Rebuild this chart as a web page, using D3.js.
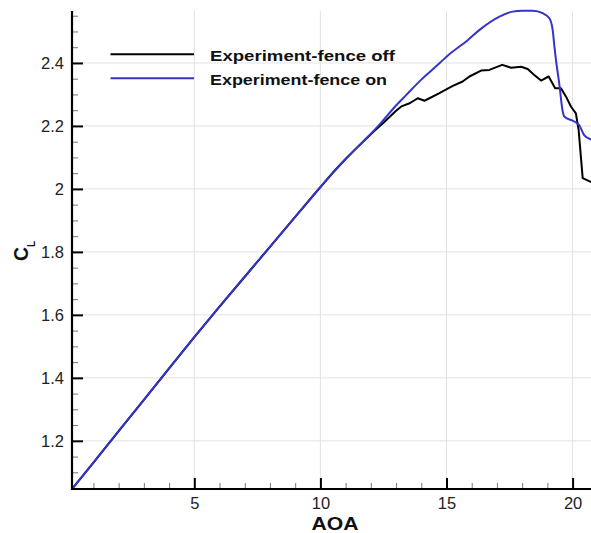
<!DOCTYPE html>
<html>
<head>
<meta charset="utf-8">
<script src="https://cdn.jsdelivr.net/npm/d3@7"></script>
<style>
  html, body { margin: 0; padding: 0; background: #fff; }
  svg { display: block; font-family: "Liberation Sans", Arial, Helvetica, sans-serif; }
</style>
</head>
<body>
<svg id="chart" width="591" height="533"></svg>
<script>
// ---- data ----
const seriesNames = ["Experiment-fence off", "Experiment-fence on"];
const seriesColors = ["#000000", "#3434c8"];

const aoaOff = [0.15, 1, 2, 3, 4, 5, 6, 7, 8, 9, 10, 10.5, 11, 11.36, 12.08, 12.5, 13.0, 13.21, 13.54, 13.86, 14.13, 14.72, 15.25, 15.64, 15.91, 16.37, 16.7, 17.21, 17.56, 17.96, 18.22, 18.48, 18.75, 19.05, 19.31, 19.54, 19.74, 19.94, 20.13, 20.24, 20.40, 20.70, 20.95];
const clOff  = [1.047, 1.131, 1.231, 1.330, 1.430, 1.529, 1.626, 1.721, 1.816, 1.911, 2.006, 2.052, 2.095, 2.124, 2.180, 2.210, 2.248, 2.262, 2.272, 2.288, 2.280, 2.304, 2.327, 2.341, 2.357, 2.376, 2.378, 2.394, 2.385, 2.388, 2.381, 2.362, 2.344, 2.357, 2.320, 2.320, 2.293, 2.261, 2.240, 2.187, 2.034, 2.023, 2.020];

const aoaOn = [0.15, 1, 2, 3, 4, 5, 6, 7, 8, 9, 10, 10.5, 11, 11.36, 12.08, 12.35, 13.0, 13.4, 14.0, 14.72, 15.0, 15.85, 16.31, 17.1, 17.62, 18.0, 18.42, 18.81, 19.08, 19.21, 19.28, 19.34, 19.47, 19.6, 19.67, 20.07, 20.26, 20.46, 20.7, 20.95];
const clOn  = [1.047, 1.131, 1.231, 1.330, 1.430, 1.529, 1.626, 1.721, 1.816, 1.911, 2.006, 2.052, 2.095, 2.124, 2.182, 2.205, 2.265, 2.298, 2.347, 2.399, 2.420, 2.473, 2.505, 2.547, 2.563, 2.566, 2.566, 2.558, 2.542, 2.505, 2.452, 2.410, 2.335, 2.250, 2.230, 2.214, 2.203, 2.171, 2.158, 2.150];

const xMajorTicks = [5, 10, 15, 20];
const xMinorTicks = [1, 2, 3, 4, 6, 7, 8, 9, 11, 12, 13, 14, 16, 17, 18, 19];
const yMajorTicks = [1.2, 1.4, 1.6, 1.8, 2, 2.2, 2.4];
const yMinorTicks = [1.05, 1.1, 1.15, 1.25, 1.3, 1.35, 1.45, 1.5, 1.55, 1.65, 1.7, 1.75, 1.85, 1.9, 1.95, 2.05, 2.1, 2.15, 2.25, 2.3, 2.35, 2.45, 2.5, 2.55];
const xDomain = [0.15, 20.73];
const yDomain = [1.047, 2.565];

// ---- layout ----
const svg = d3.select("#chart");
const pLeft = 72, pRight = 591, pTop = 11, pBottom = 489;

const x = d3.scaleLinear().domain(xDomain).range([pLeft, pRight]);
const y = d3.scaleLinear().domain(yDomain).range([pBottom, pTop]);

svg.append("defs").append("clipPath").attr("id", "clip")
  .append("rect").attr("x", pLeft).attr("y", pTop - 5).attr("width", pRight - pLeft).attr("height", pBottom - pTop + 5);

// gridlines
const grid = svg.append("g").attr("class", "grid");
grid.selectAll("line.gx").data(xMajorTicks).enter().append("line")
  .attr("x1", d => x(d)).attr("x2", d => x(d)).attr("y1", pTop).attr("y2", pBottom)
  .attr("stroke", "#e2e2e2").attr("stroke-width", 1);
grid.selectAll("line.gy").data(yMajorTicks).enter().append("line")
  .attr("x1", pLeft).attr("x2", pRight).attr("y1", d => y(d)).attr("y2", d => y(d))
  .attr("stroke", "#e2e2e2").attr("stroke-width", 1);

// lines
const lineOff = d3.line().x(d => x(d[0])).y(d => y(d[1]));
const lineOn = d3.line().x(d => x(d[0])).y(d => y(d[1])).curve(d3.curveMonotoneX);
const dataOff = aoaOff.map((a, i) => [a, clOff[i]]);
const dataOn = aoaOn.map((a, i) => [a, clOn[i]]);
const plot = svg.append("g").attr("clip-path", "url(#clip)");
plot.append("path").datum(dataOff).attr("d", lineOff).attr("fill", "none")
  .attr("stroke", seriesColors[0]).attr("stroke-width", 2).attr("stroke-linejoin", "round");
plot.append("path").datum(dataOn).attr("d", lineOn).attr("fill", "none")
  .attr("stroke", seriesColors[1]).attr("stroke-width", 2).attr("stroke-linejoin", "round");

// axes
const xMinorAxis = d3.axisBottom(x).tickValues(xMinorTicks).tickSize(-6).tickFormat("");
const xMajorAxis = d3.axisBottom(x).tickValues(xMajorTicks).tickSize(-11).tickFormat(d3.format("d"));
const yMinorAxis = d3.axisLeft(y).tickValues(yMinorTicks).tickSize(-6).tickFormat("");
const yMajorAxis = d3.axisLeft(y).tickValues(yMajorTicks).tickSize(-11).tickFormat(d => String(d));

const gxm = svg.append("g").attr("transform", `translate(0,${pBottom})`).call(xMinorAxis);
gxm.select(".domain").remove();
gxm.selectAll(".tick line").attr("stroke", "#777").attr("stroke-width", 1);
const gym = svg.append("g").attr("transform", `translate(${pLeft},0)`).call(yMinorAxis);
gym.select(".domain").remove();
gym.selectAll(".tick line").attr("stroke", "#777").attr("stroke-width", 1);

const gx = svg.append("g").attr("transform", `translate(0,${pBottom})`).call(xMajorAxis);
gx.select(".domain").remove();
gx.selectAll(".tick line").attr("stroke", "#000").attr("stroke-width", 2);
gx.selectAll(".tick text").attr("font-size", 16.5).attr("fill", "#222")
  .attr("font-family", "'Liberation Sans', Arial, sans-serif").attr("dy", null).attr("y", 20);

const gy = svg.append("g").attr("transform", `translate(${pLeft},0)`).call(yMajorAxis);
gy.select(".domain").remove();
gy.selectAll(".tick line").attr("stroke", "#000").attr("stroke-width", 2);
gy.selectAll(".tick text").attr("font-size", 16.5).attr("fill", "#222")
  .attr("font-family", "'Liberation Sans', Arial, sans-serif").attr("x", -8);

// axis lines
svg.append("line").attr("x1", pLeft).attr("x2", pRight).attr("y1", pBottom).attr("y2", pBottom)
  .attr("stroke", "#000").attr("stroke-width", 2.2);
svg.append("line").attr("x1", pLeft).attr("x2", pLeft).attr("y1", pTop).attr("y2", pBottom + 1)
  .attr("stroke", "#000").attr("stroke-width", 2.2);

// axis titles
svg.append("text").attr("x", 335).attr("y", 530).attr("text-anchor", "middle")
  .attr("font-size", 19).attr("font-weight", "bold").attr("fill", "#111")
  .attr("textLength", 47).attr("lengthAdjust", "spacingAndGlyphs").text("AOA");

const yt = svg.append("text").attr("transform", "translate(27.5,261) rotate(-90)")
  .attr("font-weight", "bold").attr("fill", "#111");
yt.append("tspan").attr("font-size", 19.5).text("C");
yt.append("tspan").attr("font-size", 10).attr("dy", 7.5).text("L");

// legend
const legendY = [54.3, 78.3];
const legendW = [185, 177];
seriesNames.forEach((name, i) => {
  svg.append("line").attr("x1", 110.5).attr("x2", 194).attr("y1", legendY[i]).attr("y2", legendY[i])
    .attr("stroke", seriesColors[i]).attr("stroke-width", 2);
  svg.append("text").attr("x", 210).attr("y", legendY[i] + 6.2)
    .attr("font-size", 15.5).attr("font-weight", "bold").attr("fill", "#111")
    .attr("textLength", legendW[i]).attr("lengthAdjust", "spacingAndGlyphs").text(name);
});
</script>
</body>
</html>
